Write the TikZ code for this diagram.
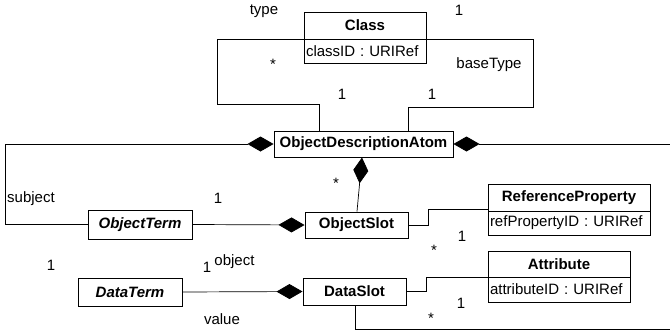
\documentclass[tikz,border=0pt]{standalone}
\usepackage{fontspec}
\setmainfont{Liberation Sans}
\usetikzlibrary{arrows.meta}
\newcommand\diagfs{\fontsize{15}{18}\selectfont}
\begin{document}
\begin{tikzpicture}[x=1pt,y=-1pt,
  box/.style={draw, line width=1pt, inner sep=0pt, font=\diagfs\bfseries},
  abox/.style={box, font=\diagfs\bfseries\itshape},
  attr/.style={draw, line width=1pt, inner xsep=2pt, inner ysep=0pt, align=left, font=\diagfs},
  conn/.style={line width=0.7pt},
  comp/.style={conn, {Diamond[length=26pt,width=15pt]}-},
  compend/.style={conn, -{Diamond[length=26pt,width=15pt]}},
  lbl/.style={anchor=base, inner sep=0pt, font=\diagfs}]
\useasboundingbox (0,0) rectangle (670,332);
% classes
\node[box, minimum width=122pt, minimum height=27pt] (classhd) at (365,25.5) {Class};
\node[attr, minimum width=122pt, minimum height=24pt, text width=118pt] (classat) at (365,51) {classID : URIRef};
\node[box, minimum width=179pt, minimum height=26pt] (oda) at (363.5,144) {ObjectDescriptionAtom};
\node[abox, minimum width=104pt, minimum height=29pt] (objterm) at (140,224.5) {ObjectTerm};
\node[box, minimum width=103pt, minimum height=26pt] (objslot) at (356.5,225) {ObjectSlot};
\node[box, minimum width=162pt, minimum height=27pt] (refhd) at (569,197.5) {ReferenceProperty};
\node[attr, minimum width=162pt, minimum height=24pt, text width=158pt] (refat) at (569,223) {refPropertyID : URIRef};
\node[abox, minimum width=104pt, minimum height=28pt] (dataterm) at (130,292) {DataTerm};
\node[box, minimum width=103pt, minimum height=27pt] (dataslot) at (354.5,291.5) {DataSlot};
\node[box, minimum width=142pt, minimum height=26pt] (atthd) at (559,264) {Attribute};
\node[attr, minimum width=142pt, minimum height=25pt, text width=138pt] (attat) at (559,289.5) {attributeID : URIRef};
\coordinate (rend) at (670,144);
\coordinate (bend) at (670,329);
% connectors
\draw[conn] (classhd.south west) -| (217,104) -| ([xshift=-44.5pt]oda.north);
\draw[conn] (classhd.south east) -| (533,107) -| ([xshift=44.5pt]oda.north);
\draw[comp] (oda.west) -| (5,224.5) -- (objterm.west);
\draw[comp] (oda.east) -- (rend);
\draw[comp] ([xshift=-1.5pt]oda.south) -- ([xshift=0.5pt]objslot.north);
\draw[compend] (objterm.east) -- (objslot.west);
\draw[conn] (objslot.east) -- ++(20,0) |- ([yshift=2pt]refhd.south west);
\draw[compend] (dataterm.east) -- (dataslot.west);
\draw[conn] (dataslot.east) -- ++(20,0) |- (atthd.south west);
\draw[conn] ([xshift=0.5pt]dataslot.south) |- (bend);
% labels
\node[lbl] (l1) at (264,15) {type};
\node[lbl] (l2) at (459,16) {1};
\node[lbl] (l3) at (273,69.5) {*};
\node[lbl] (l4) at (489,68) {baseType};
\node[lbl] (l5) at (342,99) {1};
\node[lbl] (l6) at (432,99) {1};
\node[lbl] (l7) at (336,188) {*};
\node[lbl] (l8) at (31,202) {subject};
\node[lbl] (l9) at (218,203) {1};
\node[lbl] (l10) at (51,270) {1};
\node[lbl] (l11) at (234.5,265) {object};
\node[lbl] (l12) at (207,272) {1};
\node[lbl] (l13) at (222,324) {value};
\node[lbl] (l14) at (462,241) {1};
\node[lbl] (l15) at (434,255.5) {*};
\node[lbl] (l16) at (461,308) {1};
\node[lbl] (l17) at (431,323) {*};
\end{tikzpicture}
\end{document}
